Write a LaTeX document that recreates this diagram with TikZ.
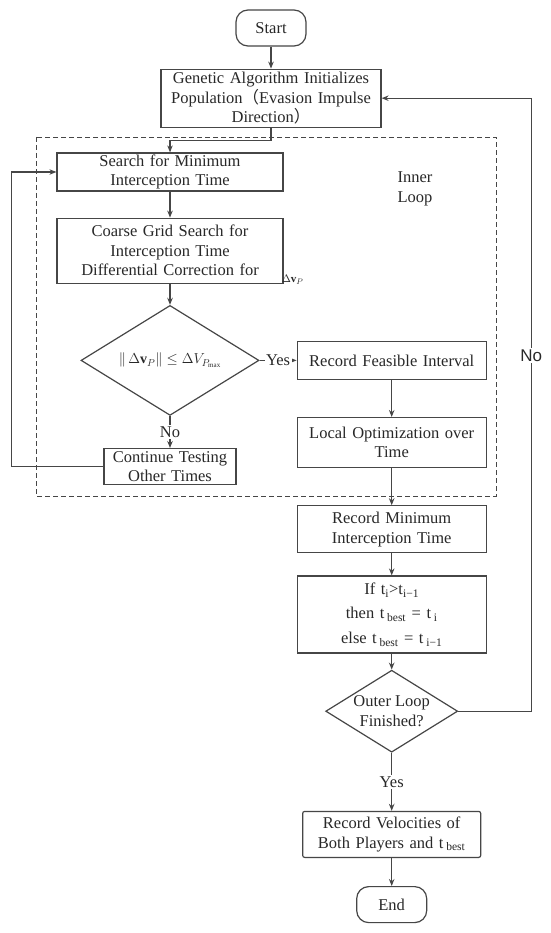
\documentclass[tikz,border=0pt]{standalone}
\usepackage{fontspec}
\setmainfont{Liberation Serif}
\newfontfamily\labelsans{Liberation Sans}
\newfontfamily\cjk{Noto Sans CJK SC}
\usetikzlibrary{arrows.meta,positioning,shapes.geometric}

\definecolor{linec}{RGB}{70,70,70}
\definecolor{textc}{RGB}{40,40,40}

\begin{document}
\begin{tikzpicture}[x=1pt, y=-1pt,
      every node/.style={text=textc, font=\fontsize{16.5}{19.5}\selectfont},
      procbox/.style={draw=linec, line width=1.2pt, align=center,
        inner xsep=3pt, inner ysep=1pt},
      terminal/.style={draw=linec, line width=1.2pt, rounded corners=12pt,
        minimum width=70pt, minimum height=36pt, inner sep=1pt},
      decision/.style={draw=linec, line width=1.2pt, diamond, align=center,
        aspect=1.61, inner xsep=-4pt, inner ysep=0pt},
      arr/.style={-{Stealth[length=7pt,width=5.5pt]}, line width=1.2pt, draw=linec},
      lbl/.style={fill=white, inner sep=1.5pt},
    ]
    \useasboundingbox[fill=white] (0,0) rectangle (550,933);

    % main column
    \node[terminal] (start) at (271,28) {Start};
    \node[procbox, text width=214pt, minimum height=58pt, below=22pt of start]
      (genetic) {Genetic Algorithm Initializes\\
        Population{\cjk （}Evasion Impulse\\ Direction{\cjk ）}};

    % inner loop
    \draw[linec, line width=0.9pt, dash pattern=on 5pt off 3pt]
      (36,137) rectangle (496,496);
    \node[align=center] (innerlbl) at (415,189) {Inner\\Loop};

    \node[procbox, text width=220pt, minimum height=38pt] (search) at (170,172)
      {Search for Minimum\\ Interception Time};
    \node[procbox, text width=220pt, minimum height=65pt, below=26pt of search]
      (coarse) {Coarse Grid Search for\\ Interception Time\\
        Differential Correction for};
    \node[anchor=south west, inner sep=0pt, font=\fontsize{11}{13}\selectfont] (dvp)
      at ([xshift=-2pt,yshift=-1pt]coarse.south east) {$\Delta\mathbf{v}_P$};
    \node[decision, minimum width=178pt, minimum height=110pt, below=21pt of coarse,
      font=\fontsize{14}{17}\selectfont]
      (check) {$\|\,\Delta\mathbf{v}_P\|\leq\Delta V_{P_{\max}}$};
    \node[procbox, text width=126pt, minimum height=36pt, below=32pt of check]
      (cont) {Continue Testing\\ Other Times};
    \node[procbox, text width=183pt, minimum height=38pt, right=37pt of check]
      (feasible) {Record Feasible Interval};
    \node[procbox, text width=183pt, minimum height=50pt, below=37pt of feasible]
      (localopt) {Local Optimization over\\ Time};

    % after the inner loop
    \node[procbox, text width=183pt, minimum height=47pt, below=37pt of localopt]
      (recmin) {Record Minimum\\ Interception Time};
    \node[procbox, text width=183pt, minimum height=77pt, below=22pt of recmin,
      font=\fontsize{16.5}{24.5}\selectfont]
      (ifbox) {If t\textsubscript{i}>t\textsubscript{i−1}\\
        then t\,\textsubscript{best} = t\,\textsubscript{i}\\
        else t\,\textsubscript{best} = t\,\textsubscript{i−1}};
    \node[decision, minimum width=132pt, minimum height=82pt, below=16pt of ifbox]
      (outer) {Outer Loop\\ Finished?};
    \node[procbox, rounded corners=2pt, text width=172pt, minimum height=46pt,
      below=58pt of outer]
      (velo) {Record Velocities of\\ Both Players and t\,\textsubscript{best}};
    \node[terminal, below=28pt of velo] (end) {End};

    \draw[arr] (start) -- (genetic);
    \draw[arr] (genetic.south) -- ++(0,13) -| (search.north);
    \draw[arr] (search) -- (coarse);
    \draw[arr] (coarse) -- (check);
    \draw[arr] (check) -- node[lbl] {No} (cont);
    \draw[arr] (check) -- node[lbl] {Yes} (feasible);
    \draw[arr] (feasible) -- (localopt);
    \draw[arr] (localopt) -- (recmin);
    \draw[arr] (recmin) -- (ifbox);
    \draw[arr] (ifbox) -- (outer);
    \draw[arr] (outer) -- node[lbl] {Yes} (velo);
    \draw[arr] (velo) -- (end);
    \draw[arr] (cont.west) -- ++(-92,0) |- (search.west);
    \draw[arr] (outer.east) -- ++(73,0) |- node[lbl, pos=0.29,
      font=\labelsans\fontsize{17}{20}\selectfont] {No} (genetic.east);
  \end{tikzpicture}
\end{document}
